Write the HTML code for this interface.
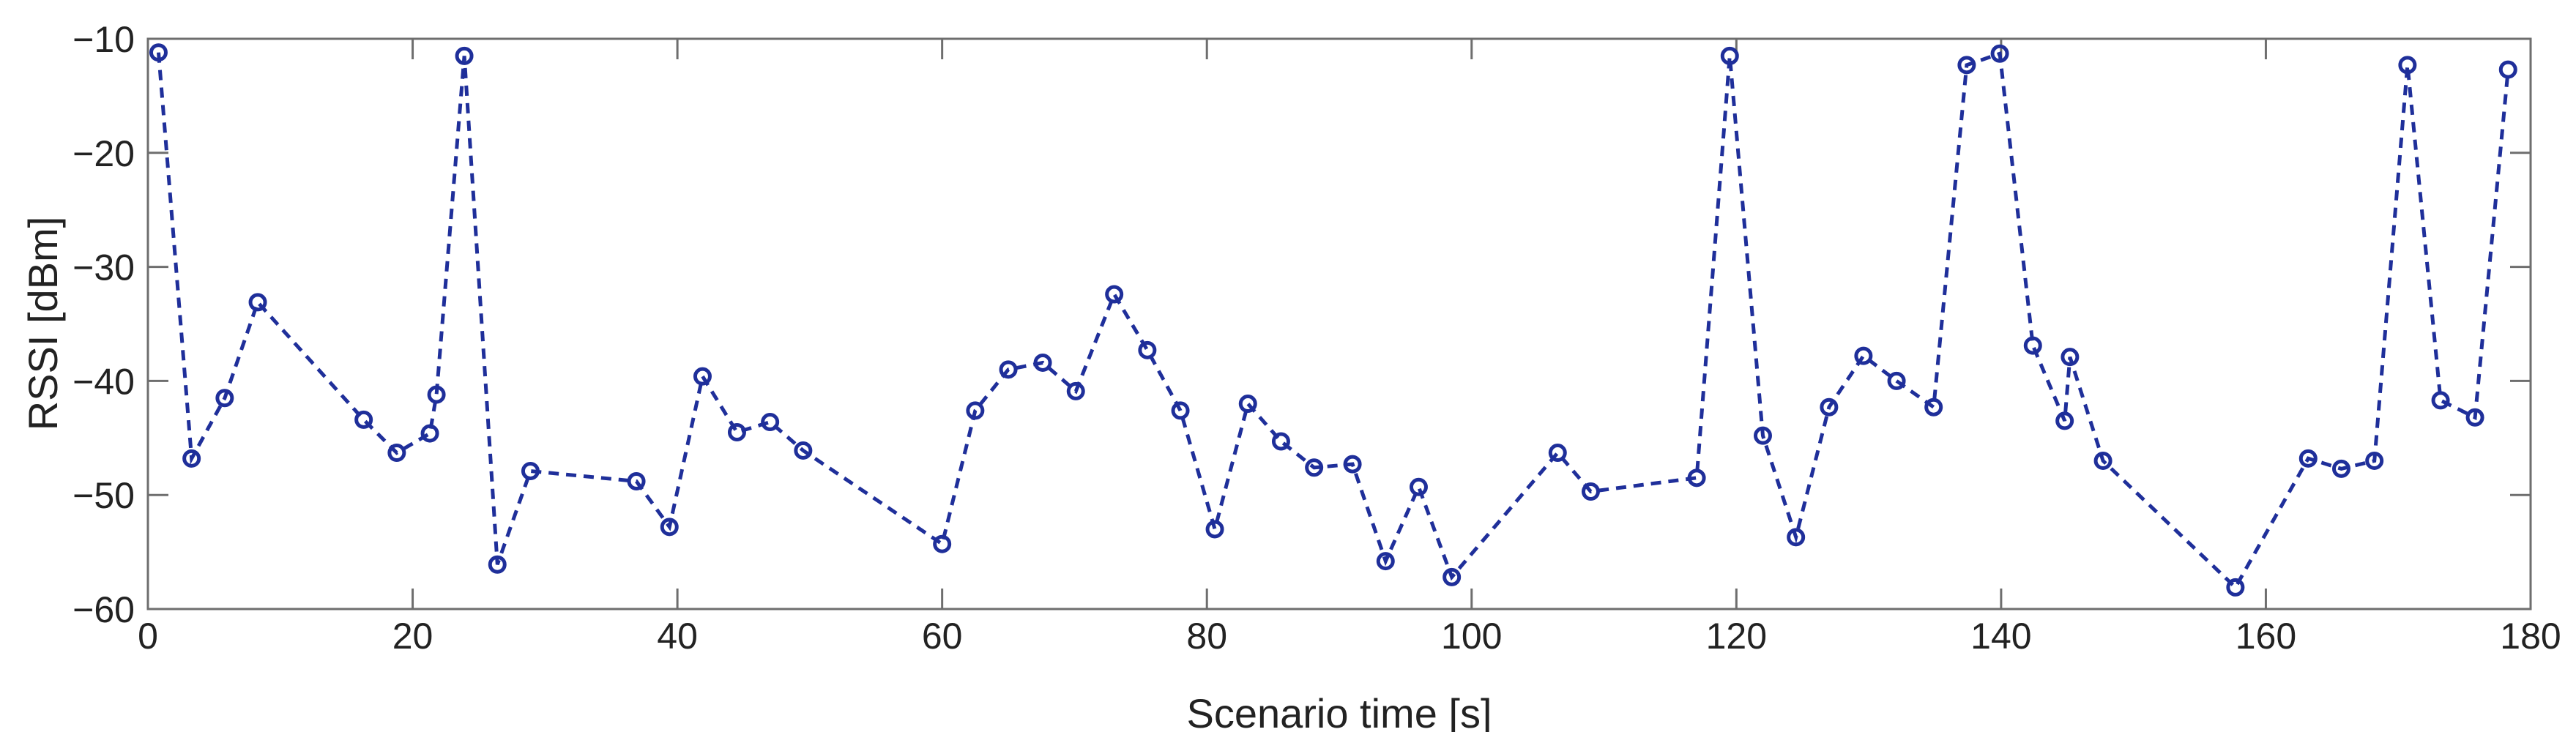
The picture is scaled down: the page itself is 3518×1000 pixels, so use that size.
<!DOCTYPE html>
<html><head><meta charset="utf-8"><style>
html,body{margin:0;padding:0;background:#fff;}
svg{display:block;font-family:"Liberation Sans",Arial,sans-serif;}
</style></head><body>
<svg id="chart" width="3518" height="1000" viewBox="0 0 3518 1000" xmlns="http://www.w3.org/2000/svg">
<g id="axes"></g>
<g id="series"></g>
<text x="1829" y="994" font-size="56" fill="#222" text-anchor="middle">Scenario time [s]</text>
<text transform="translate(78,442) rotate(-90)" font-size="56" fill="#222" text-anchor="middle">RSSI [dBm]</text>
</svg>
<script>
const times = [0.8,3.3,5.8,8.3,16.3,18.8,21.3,21.8,23.9,26.4,28.9,36.9,39.4,41.9,44.5,47,49.5,60,62.5,65,67.6,70.1,73,75.5,78,80.6,83.1,85.6,88.1,91,93.5,96,98.5,106.5,109,117,119.5,122,124.5,127,129.6,132.1,134.9,137.4,139.9,142.4,144.8,145.2,147.7,157.7,163.2,165.7,168.2,170.7,173.2,175.8,178.3];
const rssi = [-11.2,-46.8,-41.5,-33.1,-43.4,-46.3,-44.6,-41.2,-11.5,-56.1,-47.9,-48.8,-52.8,-39.6,-44.5,-43.6,-46.1,-54.3,-42.6,-39,-38.4,-40.9,-32.4,-37.3,-42.6,-53,-42,-45.3,-47.6,-47.3,-55.8,-49.3,-57.2,-46.3,-49.7,-48.5,-11.5,-44.8,-53.7,-42.3,-37.8,-40,-42.3,-12.3,-11.3,-36.9,-43.5,-37.9,-47,-58.1,-46.8,-47.7,-47,-12.3,-41.7,-43.2,-12.7];
const xTicks = [0,20,40,60,80,100,120,140,160,180];
const yTicks = [-10,-20,-30,-40,-50,-60];

const L=202,R=3456,T=53,B=832;
const xMin=0,xMax=180,yMin=-60,yMax=-10;
function sx(v){return L+(v-xMin)/(xMax-xMin)*(R-L);}
function sy(v){return B-(v-yMin)/(yMax-yMin)*(B-T);}
const NS="http://www.w3.org/2000/svg";
function mk(tag,attrs,parent){const e=document.createElementNS(NS,tag);for(const k in attrs)e.setAttribute(k,attrs[k]);parent.appendChild(e);return e;}
const axes=document.getElementById('axes');
const series=document.getElementById('series');
const box=mk('rect',{x:L,y:T,width:R-L,height:B-T,fill:'none',stroke:'#6e6e6e','stroke-width':3},axes);


xTicks.forEach(v=>{
  const x=sx(v);
  const t1=mk('line',{x1:x,x2:x,y1:B,y2:B-28,stroke:'#6e6e6e','stroke-width':3},axes);
  
  
  const t2=mk('line',{x1:x,x2:x,y1:T,y2:T+28,stroke:'#6e6e6e','stroke-width':3},axes);
  
  
  const lb=mk('text',{x:x,y:B+54,'font-size':50,fill:'#222','text-anchor':'middle'},axes);
  lb.textContent=String(v);
  
  
});
yTicks.forEach(v=>{
  const y=sy(v);
  const t1=mk('line',{x1:L,x2:L+28,y1:y,y2:y,stroke:'#6e6e6e','stroke-width':3},axes);
  
  
  const t2=mk('line',{x1:R,x2:R-28,y1:y,y2:y,stroke:'#6e6e6e','stroke-width':3},axes);
  
  
  const lb=mk('text',{x:L-18,y:y+18,'font-size':50,fill:'#222','text-anchor':'end'},axes);
  lb.textContent='\u2212'+String(Math.abs(v));
  
  
});
const pts=times.map((t,i)=>sx(t).toFixed(1)+','+sy(rssi[i]).toFixed(1)).join(' ');
const line=mk('polyline',{points:pts,fill:'none',stroke:'#1f2f9a','stroke-width':5,'stroke-dasharray':'14,10'},series);


times.forEach((t,i)=>{
  const c=mk('circle',{cx:sx(t),cy:sy(rssi[i]),r:10,fill:'none',stroke:'#1f2f9a','stroke-width':5},series);
  
  
});
</script>
</body></html>
